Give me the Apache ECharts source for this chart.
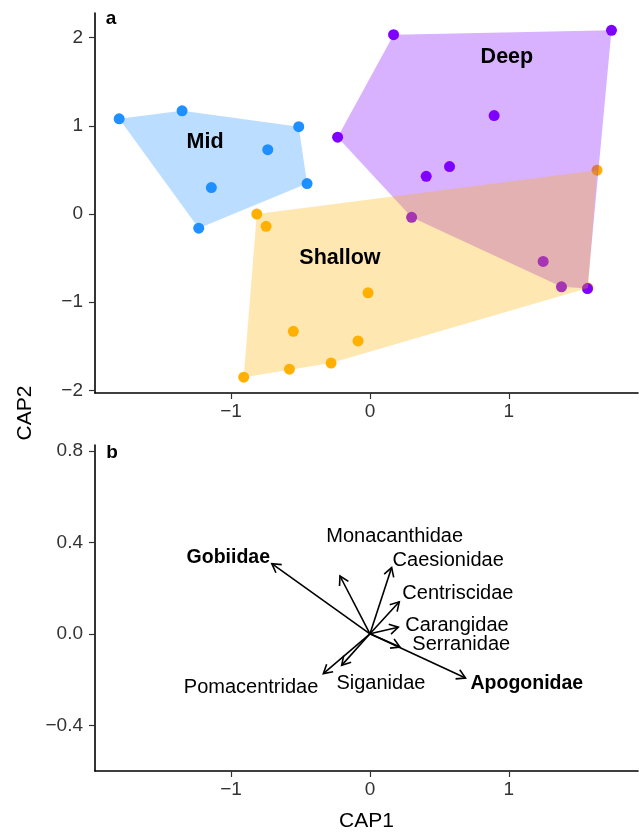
<!DOCTYPE html>
<html><head><meta charset="utf-8">
<script src="https://cdn.jsdelivr.net/npm/echarts@6/dist/echarts.min.js"></script>
<style>html,body{margin:0;padding:0;background:#fff}#c{width:639px;height:833px}</style>
</head><body><div id="c"></div>
<script>
// ---- Panel a: CAP scores by depth group ----
const midX = [-1.806, -1.353, -0.513, -0.736, -0.453, -1.142, -1.233];
const midY = [1.08, 1.17, 0.99, 0.73, 0.345, 0.30, -0.16];
const shallowX = [-0.815, -0.748, -0.552, -0.580, -0.909, -0.014, -0.086, -0.280, 1.635, 1.570];
const shallowY = [0.00, -0.14, -1.33, -1.76, -1.85, -0.894, -1.44, -1.69, 0.497, -0.84];
const deepX = [0.170, 1.739, -0.233, 0.894, 0.573, 0.405, 0.300, 1.247, 1.379, 1.566];
const deepY = [2.034, 2.083, 0.871, 1.117, 0.538, 0.428, -0.038, -0.538, -0.826, -0.845];
const groupNames = ['Mid', 'Deep', 'Shallow'];
const groupLabelX = [-1.187, 0.986, -0.216];
const groupLabelY = [0.818, 1.778, -0.50];

// ---- Panel b: species vectors ----
const families = ['Gobiidae', 'Monacanthidae', 'Caesionidae', 'Centriscidae', 'Carangidae', 'Serranidae', 'Apogonidae', 'Siganidae', 'Pomacentridae'];
const vecX = [-0.707, -0.216, 0.156, 0.211, 0.204, 0.216, 0.688, -0.204, -0.336];
const vecY = [0.307, 0.253, 0.290, 0.140, 0.029, -0.058, -0.193, -0.138, -0.174];
const labelX = [-0.720, 0.178, 0.163, 0.233, 0.254, 0.305, 0.724, 0.079, -0.372];
const labelY = [0.333, 0.427, 0.319, 0.177, 0.036, -0.046, -0.217, -0.217, -0.236];
const labelAlign = ['right', 'center', 'left', 'left', 'left', 'left', 'left', 'center', 'right'];
const boldFamilies = ['Gobiidae', 'Apogonidae'];

// ---- Axis ticks ----
const xTicks = [-1, 0, 1];
const yTicksA = [-2, -1, 0, 1, 2];
const yTicksB = [-0.4, 0.0, 0.4, 0.8];

const FONT = '"Liberation Sans", Arial, Helvetica, sans-serif';
const zip = (xs, ys) => xs.map((x, i) => [x, ys[i]]);

function convexHull(pts) {
  const p = pts.slice().sort((a, b) => a[0] - b[0] || a[1] - b[1]);
  const cross = (o, a, b) => (a[0] - o[0]) * (b[1] - o[1]) - (a[1] - o[1]) * (b[0] - o[0]);
  const lower = [], upper = [];
  for (const q of p) { while (lower.length >= 2 && cross(lower[lower.length - 2], lower[lower.length - 1], q) <= 0) lower.pop(); lower.push(q); }
  for (let i = p.length - 1; i >= 0; i--) { const q = p[i]; while (upper.length >= 2 && cross(upper[upper.length - 2], upper[upper.length - 1], q) <= 0) upper.pop(); upper.push(q); }
  upper.pop(); lower.pop();
  return lower.concat(upper);
}

const fmt = v => (v < 0 ? '\u2212' + Math.abs(v) : String(v));
const fmt1 = v => {
  const s = Math.abs(v).toFixed(1);
  return v < -1e-9 ? '\u2212' + s : s;
};

function xAxisCfg(grid, withName) {
  return {
    type: 'value', gridIndex: grid, min: -1.98, max: 1.93,
    axisLine: { show: true, onZero: false, lineStyle: { color: '#000', width: 1.6 } },
    axisTick: { show: true, customValues: xTicks, length: 6, lineStyle: { color: '#333', width: 1.2 } },
    axisLabel: { customValues: xTicks, formatter: fmt, fontSize: 19, color: '#333', margin: 9, fontFamily: FONT },
    splitLine: { show: false },
    name: withName ? 'CAP1' : '', nameLocation: 'middle', nameGap: 40,
    nameTextStyle: { fontSize: 21, color: '#000', fontFamily: FONT }
  };
}
function yAxisCfg(grid, min, max, ticks, f) {
  return {
    type: 'value', gridIndex: grid, min: min, max: max,
    axisLine: { show: true, onZero: false, lineStyle: { color: '#000', width: 1.6 } },
    axisTick: { show: true, customValues: ticks, length: 6, lineStyle: { color: '#333', width: 1.2 } },
    axisLabel: { customValues: ticks, formatter: f, fontSize: 19, color: '#333', margin: 12, fontFamily: FONT },
    splitLine: { show: false }
  };
}

function hullSeries(pts, color, z) {
  const hull = convexHull(pts);
  return {
    type: 'custom', xAxisIndex: 0, yAxisIndex: 0, z: z, silent: true,
    data: hull,
    renderItem: function (params, api) {
      if (params.dataIndex !== 0) return;
      return { type: 'polygon', shape: { points: hull.map(p => api.coord(p)) }, style: { fill: color } };
    }
  };
}
function scatterSeries(xs, ys, color) {
  return {
    type: 'scatter', xAxisIndex: 0, yAxisIndex: 0, z: 2, silent: true,
    symbolSize: 11, data: zip(xs, ys), itemStyle: { color: color, opacity: 1 }
  };
}

const chart = echarts.init(document.getElementById('c'), null, { renderer: 'canvas' });
chart.setOption({
  animation: false,
  backgroundColor: '#fff',
  grid: [
    { left: 95, top: 13, width: 543, height: 380 },
    { left: 95, top: 445, width: 543, height: 328 }
  ],
  xAxis: [xAxisCfg(0, false), xAxisCfg(1, true)],
  yAxis: [
    yAxisCfg(0, -2.03, 2.28, yTicksA, fmt),
    yAxisCfg(1, -0.6, 0.826, yTicksB, fmt1)
  ],
  graphic: [
    { type: 'text', x: 25, y: 413, rotation: Math.PI / 2, style: { text: 'CAP2', font: '21px ' + FONT, fill: '#000', align: 'center', verticalAlign: 'middle' } },
    { type: 'text', x: 111, y: 19, style: { text: 'a', font: 'bold 19px ' + FONT, fill: '#000', align: 'center', verticalAlign: 'middle' } },
    { type: 'text', x: 112, y: 453, style: { text: 'b', font: 'bold 19px ' + FONT, fill: '#000', align: 'center', verticalAlign: 'middle' } }
  ],
  series: [
    scatterSeries(midX, midY, '#1E90FF'),
    scatterSeries(shallowX, shallowY, '#FFB000'),
    scatterSeries(deepX, deepY, '#8000FF'),
    hullSeries(zip(midX, midY), 'rgba(30,144,255,0.3)', 3),
    hullSeries(zip(deepX, deepY), 'rgba(128,0,255,0.3)', 3),
    hullSeries(zip(shallowX, shallowY), 'rgba(255,176,0,0.3)', 3),
    {
      type: 'custom', xAxisIndex: 0, yAxisIndex: 0, z: 5, silent: true,
      data: groupNames.map((n, i) => [groupLabelX[i], groupLabelY[i]]),
      renderItem: function (params, api) {
        const p = api.coord([api.value(0), api.value(1)]);
        return { type: 'text', x: p[0], y: p[1], style: { text: groupNames[params.dataIndex], font: 'bold 21.5px ' + FONT, fill: '#000', align: 'center', verticalAlign: 'middle' } };
      }
    },
    {
      type: 'custom', xAxisIndex: 1, yAxisIndex: 1, z: 5, silent: true,
      data: zip(vecX, vecY),
      renderItem: function (params, api) {
        const o = api.coord([0, 0]);
        const t = api.coord([api.value(0), api.value(1)]);
        const ang = Math.atan2(t[1] - o[1], t[0] - o[0]);
        const L = 10, a = Math.PI / 6;
        const p1 = [t[0] - L * Math.cos(ang - a), t[1] - L * Math.sin(ang - a)];
        const p2 = [t[0] - L * Math.cos(ang + a), t[1] - L * Math.sin(ang + a)];
        return {
          type: 'group', children: [
            { type: 'line', shape: { x1: o[0], y1: o[1], x2: t[0], y2: t[1] }, style: { stroke: '#000', lineWidth: 1.6 } },
            { type: 'polyline', shape: { points: [p1, t, p2] }, style: { stroke: '#000', lineWidth: 1.6, fill: null } }
          ]
        };
      }
    },
    {
      type: 'custom', xAxisIndex: 1, yAxisIndex: 1, z: 5, silent: true,
      data: zip(labelX, labelY),
      renderItem: function (params, api) {
        const i = params.dataIndex;
        const p = api.coord([api.value(0), api.value(1)]);
        const bold = boldFamilies.indexOf(families[i]) >= 0;
        return { type: 'text', x: p[0], y: p[1], style: { text: families[i], font: (bold ? 'bold 19.5px ' : '20px ') + FONT, fill: '#000', align: labelAlign[i], verticalAlign: 'middle' } };
      }
    }
  ]
});
</script>
</body></html>
